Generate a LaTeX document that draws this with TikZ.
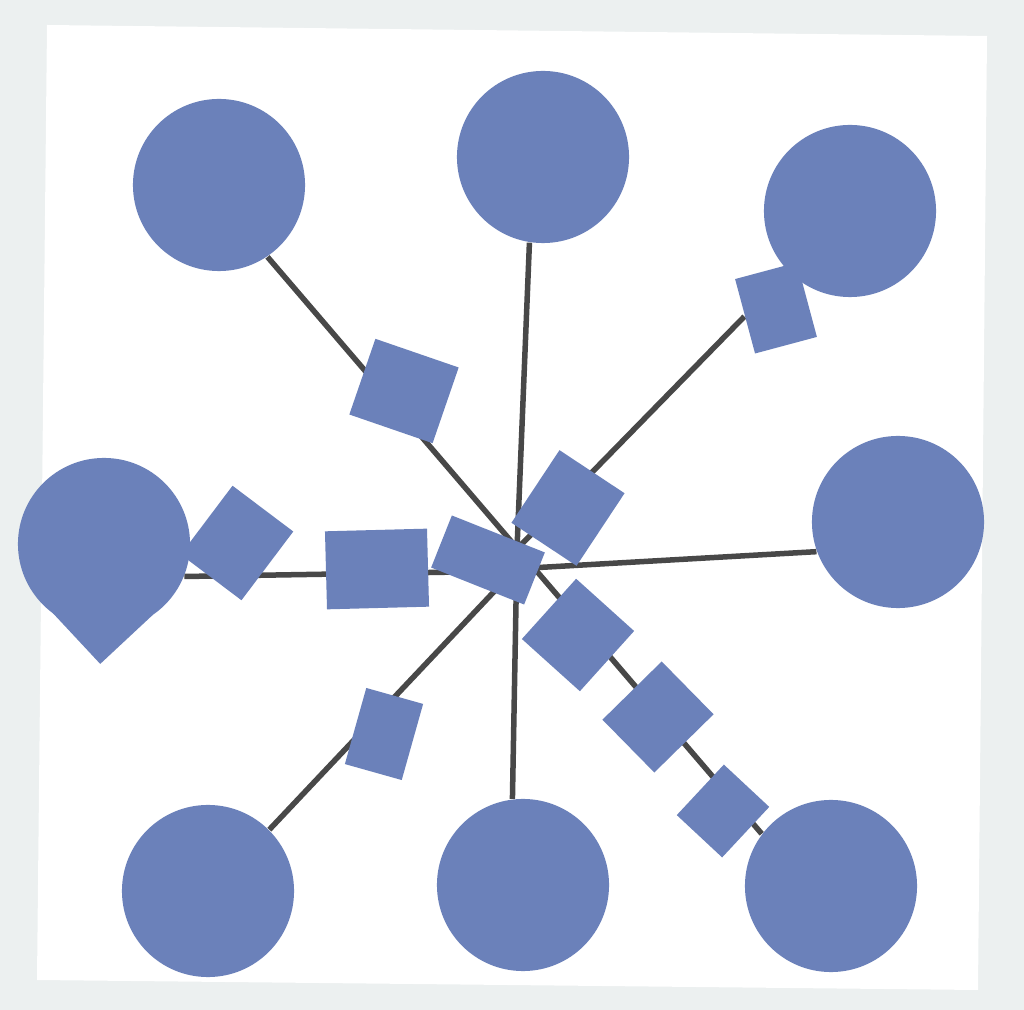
\documentclass[tikz,border=0pt]{standalone}
\usetikzlibrary{backgrounds}
\definecolor{felt}{RGB}{107,129,186}
\definecolor{graphite}{RGB}{72,72,72}
\definecolor{scanbg}{RGB}{236,240,240}
\begin{document}
\begin{tikzpicture}[x=0.01cm,y=-0.01cm,
	disc/.style={circle,fill=felt,minimum size=1.72cm,inner sep=0pt},
	chip/.style={rectangle,fill=felt,inner sep=0pt},
	pencilline/.style={draw=graphite,line width=0.055cm}]
	\useasboundingbox (0,0) rectangle (1024,1010);
	% cut-out squares (under the circles)
	\path
	(102,613) node[chip,minimum size=0.72cm,rotate=43] (q0) {}
	(404,391) node[chip,minimum width=0.88cm,minimum height=0.80cm,rotate=-19] (q1) {}
	(776,308) node[chip,minimum width=0.64cm,minimum height=0.77cm,rotate=15] (q3) {}
	(237,543) node[chip,minimum width=0.76cm,minimum height=0.86cm,rotate=-37] (q4) {}
	(377,569) node[chip,minimum width=1.02cm,minimum height=0.78cm,rotate=1.5] (qA) {}
	(488,560) node[chip,minimum width=1.00cm,minimum height=0.56cm,rotate=-21.7] (qB) {}
	(568,508) node[chip,minimum width=0.78cm,minimum height=0.87cm,rotate=-33.5] (qC) {}
	(578,635) node[chip,minimum width=0.78cm,minimum height=0.81cm,rotate=-42] (qD) {}
	(658,717) node[chip,minimum width=0.74cm,minimum height=0.83cm,rotate=-45.5] (qE) {}
	(723,811) node[chip,minimum width=0.62cm,minimum height=0.69cm,rotate=-43] (qF) {}
	(384,734) node[chip,minimum width=0.59cm,minimum height=0.79cm,rotate=-15.7] (qG) {};
	% circles
	\path
	(219,185) node[disc] (c1) {}
	(543,157) node[disc] (c2) {}
	(850,211) node[disc] (c3) {}
	(898,522) node[disc] (c4) {}
	(104,544) node[disc] (c5) {}
	(208,891) node[disc] (c6) {}
	(523,885) node[disc] (c7) {}
	(831,886) node[disc] (c8) {};
	\coordinate (hub) at (517,549);
	\coordinate (hubE) at (530,568);
	\coordinate (hubW) at (460,572);
	\coordinate (hubSW) at (505,580);
	\begin{pgfonlayer}{background}
		\fill[scanbg] (0,0) rectangle (1024,1010);
		\fill[white] (47,25) -- (987,36) -- (978,990) -- (37,980) -- cycle;
		% pencil lines
		\draw[pencilline] (c1.-56) -- (c8.143);
		\draw[pencilline] (c2.-99) -- (hub) -- (c7.97);
		\draw[pencilline] (q3.west) -- (hub);
		\draw[pencilline] (c4.-160) -- (hubE);
		\draw[pencilline] (c5.-22) -- (hubW);
		\draw[pencilline] (c6.45) -- (hubSW);
	\end{pgfonlayer}
\end{tikzpicture}
\end{document}
